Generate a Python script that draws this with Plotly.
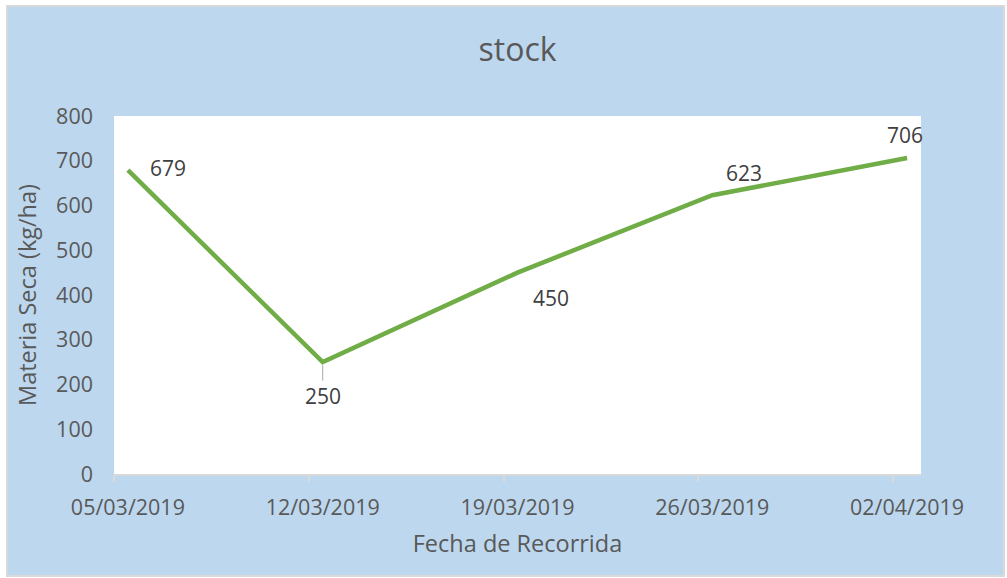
import plotly.graph_objects as go
import pandas as pd

dates = ["2019-03-05", "2019-03-12", "2019-03-19", "2019-03-26", "2019-04-02"]
tick_labels = ["05/03/2019", "12/03/2019", "19/03/2019", "26/03/2019", "02/04/2019"]
values = [679, 250, 450, 623, 706]
y_ticks = [0, 100, 200, 300, 400, 500, 600, 700, 800]

# label offsets (pixels) relative to each point
label_dx = [40, 0, 33, 32, -2]
label_dy = [-2, 34, 25, -22, -23]

W, H = 1007, 578
L, R, T, B = 114, 86, 116, 104
pw, ph = W - L - R, H - T - B

FONT = "Open Sans"
GREY = "#595959"
BLUE = "#BDD7EE"

minor_ticks = [(pd.Timestamp(d) - pd.Timedelta(hours=12)).strftime("%Y-%m-%d %H:%M") for d in dates]
x_range = [minor_ticks[0], (pd.Timestamp(dates[-1]) + pd.Timedelta(hours=12)).strftime("%Y-%m-%d %H:%M")]

fig = go.Figure()
fig.add_trace(go.Scatter(
    x=dates, y=values, mode="lines",
    line=dict(color="#70AD47", width=4.5),
    hoverinfo="skip", showlegend=False,
))

for i, (d, v) in enumerate(zip(dates, values)):
    if i == 1:
        fig.add_annotation(x=d, y=v, text=str(v), showarrow=True, ax=label_dx[i], ay=label_dy[i],
                           arrowhead=0, arrowwidth=1, arrowcolor="#A6A6A6", standoff=3,
                           font=dict(family=FONT, size=21, color="#404040"))
    else:
        fig.add_annotation(x=d, y=v, text=str(v), showarrow=False,
                           xshift=label_dx[i], yshift=-label_dy[i],
                           font=dict(family=FONT, size=21, color="#404040"))

# chart area border and background
fig.add_shape(type="rect", xref="paper", yref="paper",
              x0=(7 - L) / pw, x1=(1004 - L) / pw,
              y0=(H - B - 576) / ph, y1=(H - B - 6) / ph,
              line=dict(color="#D9D9D9", width=2), fillcolor=BLUE, layer="below")
# white plot area
fig.add_shape(type="rect", xref="paper", yref="paper", x0=0, x1=1, y0=0, y1=1,
              line=dict(width=0), fillcolor="white", layer="below")

fig.update_layout(
    width=W, height=H,
    margin=dict(l=L, r=R, t=T, b=B, pad=0),
    paper_bgcolor="white", plot_bgcolor="white",
    title=dict(text="stock", x=0.5, xref="paper", xanchor="center",
               y=1 - 50 / H, yref="container", yanchor="middle",
               font=dict(family=FONT, size=32, color=GREY)),
    font=dict(family=FONT, color=GREY),
    xaxis=dict(
        type="date", range=x_range,
        tickmode="array", tickvals=dates, ticktext=tick_labels,
        ticks="", showgrid=False, zeroline=False,
        showline=True, linecolor="#D9D9D9", linewidth=2,
        tickfont=dict(family=FONT, size=21.5, color=GREY),
        ticklabelstandoff=13,
        minor=dict(tickmode="array", tickvals=minor_ticks, ticks="outside",
                   ticklen=6, tickcolor="#D9D9D9", tickwidth=1.5, showgrid=False),
        title=dict(text="Fecha de Recorrida", font=dict(family=FONT, size=23.5, color=GREY), standoff=16),
    ),
    yaxis=dict(
        range=[0, 800], tickmode="array", tickvals=y_ticks,
        showgrid=False, zeroline=False, showline=False,
        ticks="", ticklabelstandoff=20,
        tickfont=dict(family=FONT, size=21.5, color=GREY),
        title=dict(text="Materia Seca (kg/ha)", font=dict(family=FONT, size=23.5, color=GREY), standoff=12),
    ),
)

fig.write_html("out.html")
